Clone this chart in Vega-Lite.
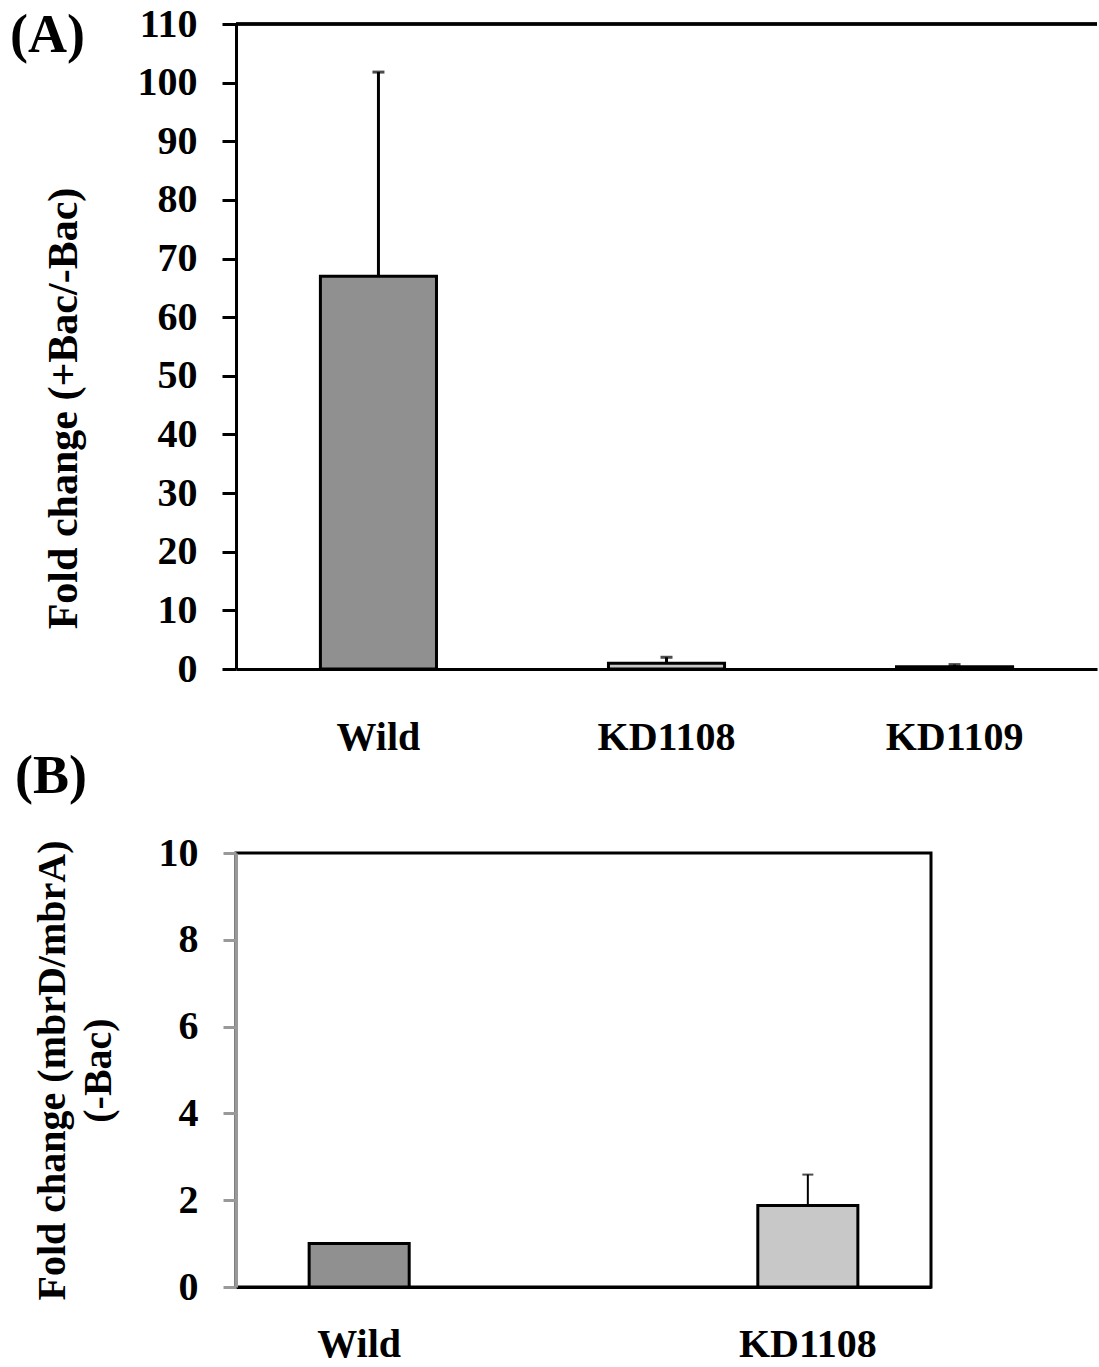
{
  "$schema": "https://vega.github.io/schema/vega-lite/v6.json",
  "background": "white",
  "padding": {"left": 10, "top": 4, "right": 0, "bottom": 0},
  "spacing": -9,
  "align": "none",
  "config": {
    "font": "Liberation Serif",
    "axis": {"labelFont": "Liberation Serif", "labelFontWeight": "bold", "labelColor": "black", "titleFont": "Liberation Serif", "titleFontWeight": "bold", "titleColor": "black", "grid": false},
    "title": {"font": "Liberation Serif", "fontWeight": "bold", "color": "black"}
  },
  "vconcat": [
    {
      "title": {"text": "(A)", "anchor": "start", "frame": "bounds", "fontSize": 54, "dx": -32, "dy": 63},
      "width": 861,
      "height": 645,
      "view": {"stroke": null},
      "data": {"values": [
        {"group": "Wild", "value": 67, "upper": 101.8},
        {"group": "KD1108", "value": 1.0, "upper": 2.0},
        {"group": "KD1109", "value": 0.4, "upper": 0.75}
      ]},
      "encoding": {
        "x": {"field": "group", "type": "nominal", "sort": null,
          "scale": {"paddingInner": 0.597, "paddingOuter": 0.293},
          "axis": {"title": null, "labelAngle": 0, "labelFontSize": 40, "ticks": false, "labelPadding": 48, "domainColor": "black", "domainWidth": 3}}
      },
      "layer": [
        {"mark": {"type": "rule", "color": "black", "strokeWidth": 3}, "encoding": {"y": {"datum": 110}, "x": null}},
        {"mark": {"type": "bar", "stroke": "black", "strokeWidth": 3},
          "encoding": {
            "y": {"field": "value", "type": "quantitative",
              "scale": {"domain": [0, 110], "nice": false},
              "axis": {"title": "Fold change (+Bac/-Bac)", "titleFontSize": 42, "titlePadding": 52, "titleY": 384, "values": [0,10,20,30,40,50,60,70,80,90,100,110], "labelFontSize": 40, "tickSize": 14, "tickWidth": 3, "tickColor": "black", "labelPadding": 25, "domainColor": "black", "domainWidth": 3}},
            "fill": {"field": "group", "type": "nominal", "legend": null,
              "scale": {"domain": ["Wild", "KD1108", "KD1109"], "range": ["#8f908f", "#c8c8c8", "#ffffff"]}}
          }},
        {"mark": {"type": "rule", "color": "black", "strokeWidth": 3},
          "encoding": {"y": {"field": "value", "type": "quantitative"}, "y2": {"field": "upper"}}},
        {"mark": {"type": "tick", "color": "black", "thickness": 3, "size": 12},
          "encoding": {"y": {"field": "upper", "type": "quantitative"}}}
      ]
    },
    {
      "title": {"text": "(B)", "anchor": "start", "frame": "bounds", "fontSize": 54, "dx": -17, "offset": 29},
      "width": 695,
      "height": 434,
      "view": {"stroke": "black", "strokeWidth": 3},
      "data": {"values": [
        {"group": "Wild", "value": 1.0, "upper": 1.0},
        {"group": "KD1108", "value": 1.88, "upper": 2.59}
      ]},
      "encoding": {
        "x": {"field": "group", "type": "nominal", "sort": null,
          "scale": {"paddingInner": 0.777, "paddingOuter": 0.163},
          "axis": {"title": null, "labelAngle": 0, "labelFontSize": 40, "ticks": false, "labelPadding": 37, "domainColor": "black", "domainWidth": 3}}
      },
      "layer": [
        {"mark": {"type": "bar", "stroke": "black", "strokeWidth": 3},
          "encoding": {
            "y": {"field": "value", "type": "quantitative",
              "scale": {"domain": [0, 10], "nice": false},
              "axis": {"title": ["Fold change (mbrD/mbrA)", "(-Bac)"], "titleFontSize": 40, "titleLineHeight": 46, "titlePadding": 40, "values": [0,2,4,6,8,10], "labelFontSize": 40, "tickSize": 13, "tickWidth": 3, "tickColor": "#999999", "labelPadding": 25, "domainColor": "#999999", "domainWidth": 3}},
            "fill": {"field": "group", "type": "nominal", "legend": null,
              "scale": {"domain": ["Wild", "KD1108"], "range": ["#8f908f", "#c8c8c8"]}}
          }},
        {"transform": [{"filter": "datum.upper > datum.value"}],
          "mark": {"type": "rule", "color": "black", "strokeWidth": 2},
          "encoding": {"y": {"field": "value", "type": "quantitative"}, "y2": {"field": "upper"}}},
        {"transform": [{"filter": "datum.upper > datum.value"}],
          "mark": {"type": "tick", "color": "black", "thickness": 2, "size": 11},
          "encoding": {"y": {"field": "upper", "type": "quantitative"}}}
      ]
    }
  ],
  "resolve": {"scale": {"fill": "independent", "x": "independent", "y": "independent"}}
}
